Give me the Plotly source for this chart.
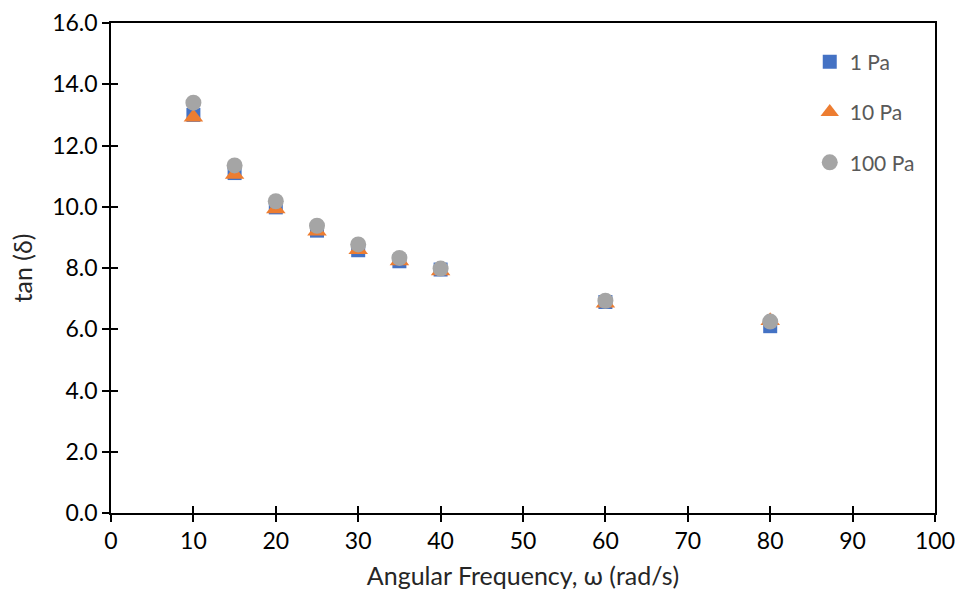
import plotly.graph_objects as go

# Angular frequency sweep (rad/s) and loss tangent at three stress amplitudes
omega = [10, 15, 20, 25, 30, 35, 40, 60, 80]
tan_1pa = [13.00, 11.10, 9.98, 9.22, 8.58, 8.22, 7.95, 6.89, 6.10]
tan_10pa = [12.92, 11.05, 9.93, 9.20, 8.60, 8.23, 7.90, 6.85, 6.28]
tan_100pa = [13.40, 11.35, 10.18, 9.38, 8.77, 8.33, 7.98, 6.93, 6.25]

series_names = ["1 Pa", "10 Pa", "100 Pa"]
x_ticks = list(range(0, 101, 10))
y_ticks = [0, 2, 4, 6, 8, 10, 12, 14, 16]

FONT = "Lato, 'Open Sans', sans-serif"

fig = go.Figure()
styles = [
    (tan_1pa, "square", "#4472C4", 14),
    (tan_10pa, "triangle-up", "#ED7D31", 17),
    (tan_100pa, "circle", "#A5A5A5", 16),
]
for name, (vals, sym, col, size) in zip(series_names, styles):
    fig.add_trace(go.Scatter(
        x=omega, y=vals, mode="markers", name=name, legendgroup=name,
        marker=dict(symbol=sym, color=col, size=size, line=dict(width=0)),
    ))

# Invisible trace on overlay axes to carry the inward half of the tick marks
fig.add_trace(go.Scatter(x=[None], y=[None], xaxis="x2", yaxis="y2",
                         showlegend=False, hoverinfo="skip"))

axis_common = dict(showgrid=False, zeroline=False, linecolor="black",
                   linewidth=1.5, tickcolor="black", tickwidth=1.5, ticklen=7,
                   automargin=False)
tick_only = {k: v for k, v in axis_common.items() if k not in ("linecolor", "linewidth")}

fig.update_layout(
    width=955, height=598,
    margin=dict(l=111, r=20, t=23, b=85),
    paper_bgcolor="white", plot_bgcolor="white",
    font=dict(family=FONT, color="black", size=23),
    xaxis=dict(range=[0, 100], tickvals=x_ticks, ticktext=[str(v) for v in x_ticks],
               ticks="outside", mirror=True, showline=True, ticklabeloverflow="allow",
               title=dict(text="Angular Frequency, ω (rad/s)", standoff=14,
                          font=dict(size=25, color="#262626")),
               **axis_common),
    yaxis=dict(range=[0, 16], tickvals=y_ticks, ticktext=[f"{v:.1f}" for v in y_ticks],
               ticks="outside", mirror=True, showline=True,
               title=dict(text="tan (δ)", standoff=12,
                          font=dict(size=25, color="#262626")),
               **axis_common),
    xaxis2=dict(range=[0, 100], tickvals=x_ticks, ticks="inside", showticklabels=False,
                overlaying="x", anchor="y2", showline=False, **tick_only),
    yaxis2=dict(range=[0, 16], tickvals=y_ticks, ticks="inside", showticklabels=False,
                overlaying="y", anchor="x2", showline=False, **tick_only),
    legend=dict(x=0.848, y=0.962, xanchor="left", yanchor="top",
                bgcolor="rgba(0,0,0,0)", font=dict(size=21, color="#595959"),
                tracegroupgap=20, itemwidth=30),
    showlegend=True,
)

fig.write_html("out.html")
